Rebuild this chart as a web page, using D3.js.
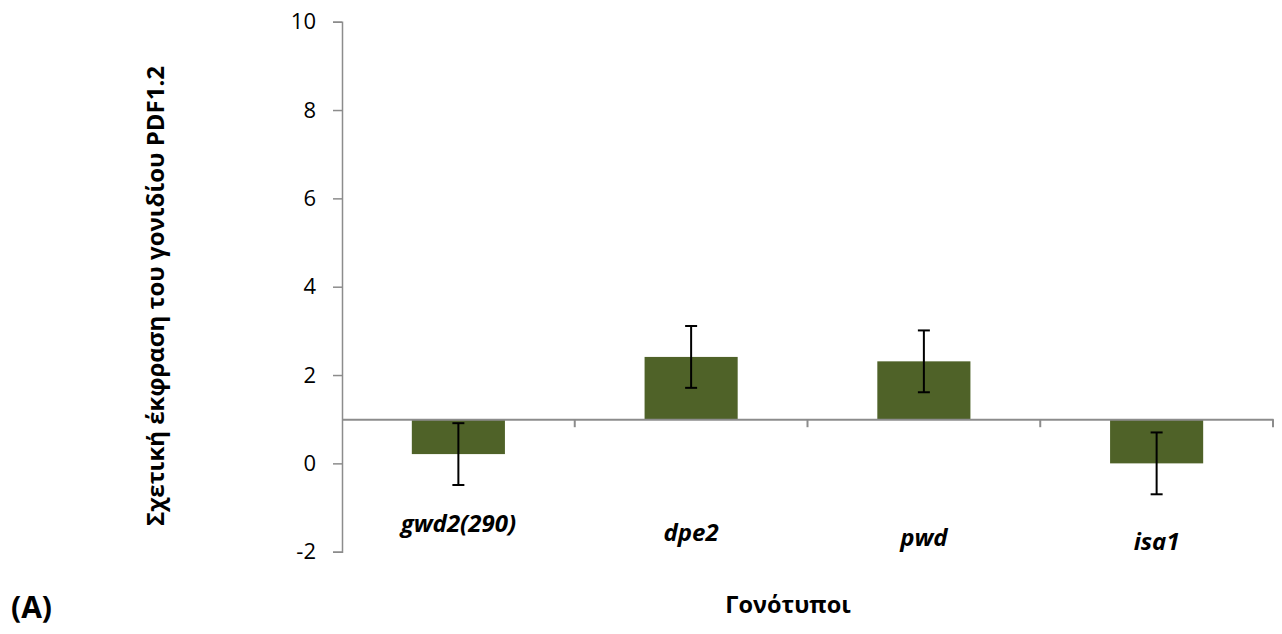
<!DOCTYPE html>
<html>
<head>
<meta charset="utf-8">
<script src="https://cdn.jsdelivr.net/npm/d3@7"></script>
<style>
  html, body { margin: 0; padding: 0; background: #ffffff; }
  svg { display: block; font-family: "Open Sans", "Noto Sans", sans-serif; }
</style>
</head>
<body>
<svg id="chart" width="1282" height="634"></svg>
<script>
// Relative expression of PDF1.2 per genotype (bars drawn from the baseline value 1)
const genotypes = ["gwd2(290)", "dpe2", "pwd", "isa1"];
const expression = [0.21, 2.41, 2.31, 0.0];
const errors = [0.7, 0.7, 0.7, 0.7];
const yTicks = [-2, 0, 2, 4, 6, 8, 10];
const baselineValue = 1;

// Layout constants
const plot = { left: 342, right: 1273, top: 21.7, bottom: 551.7 };
const labelBaselines = [532, 541, 546, 550];
const barColor = "#4F6228";
const axisColor = "#8c8c8c";

const svg = d3.select("#chart");

const x = d3.scaleBand()
  .domain(genotypes)
  .range([plot.left, plot.right])
  .padding(0);

const y = d3.scaleLinear()
  .domain([-2, 10])
  .range([plot.bottom, plot.top]);

const barW = x.bandwidth() * 0.4;
const barX = d => x(d) + (x.bandwidth() - barW) / 2;
const cx = d => x(d) + x.bandwidth() / 2;

// Vertical axis
const yAxis = d3.axisLeft(y).tickValues(yTicks).tickSize(9).tickPadding(17).tickFormat(d => String(d));
const gy = svg.append("g")
  .attr("transform", `translate(${plot.left},0)`)
  .call(yAxis);
gy.select(".domain").attr("stroke", axisColor).attr("stroke-width", 1.5);
gy.selectAll(".tick line").attr("stroke", axisColor).attr("stroke-width", 1.5);
gy.selectAll(".tick text")
  .attr("fill", "#000")
  .style("font-size", "22px")
  .style("font-family", "'Open Sans', sans-serif");

// Bars
svg.append("g").selectAll("rect")
  .data(genotypes)
  .join("rect")
  .attr("x", d => barX(d))
  .attr("width", barW)
  .attr("y", (d, i) => y(Math.max(expression[i], baselineValue)))
  .attr("height", (d, i) => Math.abs(y(expression[i]) - y(baselineValue)))
  .attr("fill", barColor);

// Horizontal axis crossing at the baseline value, with category boundary ticks
const xAxis = d3.axisBottom(x).tickSize(0).tickFormat("");
const gx = svg.append("g")
  .attr("transform", `translate(0,${y(baselineValue)})`)
  .call(xAxis);
gx.select(".domain").attr("stroke", axisColor).attr("stroke-width", 2);
gx.selectAll(".tick").remove();
const boundaries = genotypes.map(d => x(d)).concat([x(genotypes[genotypes.length - 1]) + x.bandwidth()]).slice(1);
gx.selectAll("line.bound")
  .data(boundaries)
  .join("line")
  .attr("class", "bound")
  .attr("x1", d => d).attr("x2", d => d)
  .attr("y1", 0).attr("y2", 8)
  .attr("stroke", axisColor).attr("stroke-width", 2);

// Error bars
const eb = svg.append("g").attr("stroke", "#000").attr("stroke-width", 2);
genotypes.forEach((g, i) => {
  const top = y(expression[i] + errors[i]);
  const bot = y(expression[i] - errors[i]);
  const c = cx(g);
  eb.append("line").attr("x1", c).attr("x2", c).attr("y1", top).attr("y2", bot);
  eb.append("line").attr("x1", c - 6).attr("x2", c + 6).attr("y1", top).attr("y2", top);
  eb.append("line").attr("x1", c - 6).attr("x2", c + 6).attr("y1", bot).attr("y2", bot);
});

// Category labels
svg.append("g").selectAll("text")
  .data(genotypes)
  .join("text")
  .attr("x", d => cx(d))
  .attr("y", (d, i) => labelBaselines[i])
  .attr("text-anchor", "middle")
  .style("font-size", "24px")
  .style("font-weight", "bold")
  .style("font-style", "italic")
  .text(d => d);

// Axis titles
svg.append("text")
  .attr("transform", "translate(164,296) rotate(-90)")
  .attr("text-anchor", "middle")
  .style("font-size", "24px")
  .style("font-weight", "bold")
  .text("Σχετική έκφραση του γονιδίου PDF1.2");

svg.append("text")
  .attr("x", 788)
  .attr("y", 613)
  .attr("text-anchor", "middle")
  .style("font-size", "23.5px")
  .style("font-weight", "bold")
  .text("Γονότυποι");

svg.append("text")
  .attr("x", 11)
  .attr("y", 618)
  .style("font-size", "30px")
  .style("font-weight", "bold")
  .text("(A)");
</script>
</body>
</html>
